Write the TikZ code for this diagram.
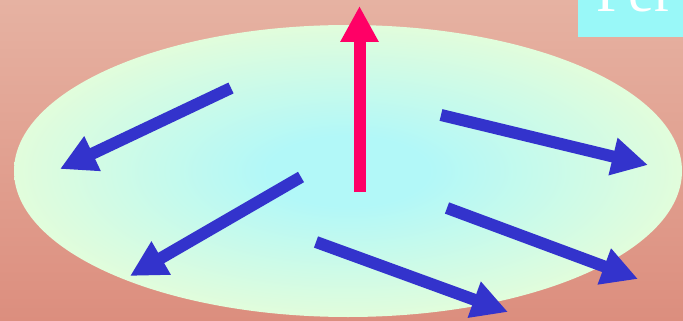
\documentclass[tikz,border=0pt]{standalone}
\usepackage{fontspec}
\setmainfont{Liberation Serif}
\usetikzlibrary{arrows.meta}
\definecolor{bgtop}{HTML}{E6B2A2}
\definecolor{bgbot}{HTML}{DC8E7E}
\definecolor{elgreen}{HTML}{E4FDDA}
\definecolor{elcyan}{HTML}{B2F8F8}
\definecolor{spinblue}{HTML}{3333CC}
\definecolor{spinred}{HTML}{FF0066}
\definecolor{boxcyan}{HTML}{99F8F8}
\pgfdeclareradialshading{plate}{\pgfpoint{0bp}{0bp}}{%
  color(0bp)=(elcyan); color(6bp)=(elcyan); color(26bp)=(elgreen); color(50bp)=(elgreen)}
\tikzset{
  spin/.style={line width=12pt, -{Triangle[length=36pt,width=36pt]}},
  bluespin/.style={spin, draw=spinblue, fill=spinblue},
  redspin/.style={spin, draw=spinred, fill=spinred},
}
\begin{document}
\begin{tikzpicture}[x=1pt,y=-1pt]
\useasboundingbox (0,0) rectangle (683,321);
\clip (0,0) rectangle (683,321);
\shade[top color=bgtop, bottom color=bgbot] (0,0) rectangle (683,321);
\shade[shading=plate] (348,171) ellipse [x radius=334, y radius=146];
% cyan title box
\fill[boxcyan] (578,-5) rectangle (690,37);
\node[anchor=base west, inner sep=0pt, text=white, font=\fontsize{58}{58}\selectfont] (title) at (596,12) {Fer};
% red arrow
\coordinate (r0) at (359.5,192);
\coordinate (r1) at (359.5,6);
\draw[redspin] (r0) -- (r1);
% blue arrows
\coordinate (a0) at (231,88);  \coordinate (a1) at (60,169);
\coordinate (b0) at (301,177); \coordinate (b1) at (130,276);
\coordinate (c0) at (316,242); \coordinate (c1) at (508,312);
\coordinate (d0) at (441,115); \coordinate (d1) at (648,165);
\coordinate (e0) at (447,208); \coordinate (e1) at (638,279);
\draw[bluespin] (a0) -- (a1);
\draw[bluespin] (b0) -- (b1);
\draw[bluespin] (c0) -- (c1);
\draw[bluespin] (d0) -- (d1);
\draw[bluespin] (e0) -- (e1);
\end{tikzpicture}
\end{document}
